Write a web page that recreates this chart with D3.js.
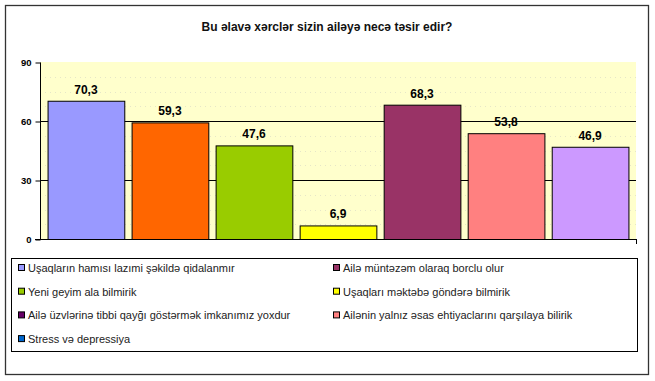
<!DOCTYPE html>
<html><head><meta charset="utf-8">
<script src="https://cdn.jsdelivr.net/npm/d3@7"></script>
<style>body{margin:0;background:#fff}svg{display:block}</style>
</head><body>
<script>
const title = "Bu əlavə xərclər sizin ailəyə necə təsir edir?";
const barValues = [70.3, 59.3, 47.6, 6.9, 68.3, 53.8, 46.9];
const barLabels = ["70,3", "59,3", "47,6", "6,9", "68,3", "53,8", "46,9"];
const barColors = ["#9999FF", "#FF6600", "#99CC00", "#FFFF00", "#993366", "#FF8080", "#CC99FF"];
const legendNames = [
  "Uşaqların hamısı lazımi şəkildə qidalanmır",
  "Ailə müntəzəm olaraq borclu olur",
  "Yeni geyim ala bilmirik",
  "Uşaqları məktəbə göndərə bilmirik",
  "Ailə üzvlərinə tibbi qayğı göstərmək imkanımız yoxdur",
  "Ailənin yalnız əsas ehtiyaclarını qarşılaya bilirik",
  "Stress və depressiya"
];
const legendColors = ["#9999FF", "#993366", "#99CC00", "#FFFF00", "#660066", "#FF8080", "#0066CC"];
const yTicks = [0, 30, 60, 90];

const W = 655, H = 381;
const svg = d3.select("body").append("svg").attr("width", W).attr("height", H);
const font = "Arial, 'Liberation Sans', sans-serif";

svg.append("rect").attr("x", 5.5).attr("y", 5.5).attr("width", 643).attr("height", 369)
  .attr("fill", "#fff").attr("stroke", "#333").attr("stroke-width", 1.3);

svg.append("text").attr("x", 327).attr("y", 31).attr("text-anchor", "middle")
  .attr("font-family", font).attr("font-size", 12).attr("font-weight", "bold").attr("fill", "#111").text(title);

const x0 = 40, x1 = 636, yTop = 62, yBot = 239;
const x = d3.scaleBand().domain(d3.range(barValues.length)).range([x0, x1]).paddingInner(0.087).paddingOuter(0.09);
const y = d3.scaleLinear().domain([0, 90]).range([yBot, yTop]);

svg.append("rect").attr("x", x0).attr("y", yTop).attr("width", x1 - x0).attr("height", yBot - yTop).attr("fill", "#FFFFCC");

// faint dotted texture lines
const minor = d3.range(0, 90, 7.5).filter(v => v % 30 !== 0);
svg.append("g").selectAll("line").data(minor).join("line")
  .attr("x1", x0).attr("x2", x1).attr("y1", d => Math.round(y(d)) + 0.5).attr("y2", d => Math.round(y(d)) + 0.5)
  .attr("stroke", "#e6e6c8").attr("stroke-dasharray", "1,4");

// gridlines
svg.append("g").selectAll("line").data([30, 60]).join("line")
  .attr("x1", x0).attr("x2", x1).attr("y1", d => Math.round(y(d)) + 0.5).attr("y2", d => Math.round(y(d)) + 0.5)
  .attr("stroke", "#000").attr("stroke-width", 1);

// bars
svg.append("g").selectAll("rect").data(barValues).join("rect")
  .attr("x", (d, i) => x(i) + 0.5).attr("y", d => y(d) + 0.5)
  .attr("width", x.bandwidth()).attr("height", d => yBot - y(d))
  .attr("fill", (d, i) => barColors[i]).attr("stroke", "#000").attr("stroke-width", 1);

svg.append("g").selectAll("text").data(barValues).join("text")
  .attr("x", (d, i) => x(i) + x.bandwidth() / 2).attr("y", d => y(d) - 7)
  .attr("text-anchor", "middle").attr("font-family", font).attr("font-size", 12).attr("font-weight", "bold")
  .attr("fill", "#000").text((d, i) => barLabels[i]);

// y axis
const yAxis = d3.axisLeft(y).tickValues(yTicks).tickSize(5).tickFormat(d3.format("d"));
const gy = svg.append("g").attr("transform", `translate(${x0 + 0.5},0.5)`).call(yAxis);
gy.select(".domain").attr("stroke", "#000").attr("d", `M0,${yTop}V${yBot}`);
gy.selectAll(".tick line").attr("stroke", "#000");
gy.selectAll(".tick text").attr("font-family", font).attr("font-size", 9.5).attr("font-weight", "bold").attr("fill", "#000").attr("x", -9);

// x axis line
svg.append("line").attr("x1", x0 - 5).attr("x2", x1 + 0.5).attr("y1", yBot + 0.5).attr("y2", yBot + 0.5).attr("stroke", "#000");
svg.append("line").attr("x1", x1 + 0.5).attr("x2", x1 + 0.5).attr("y1", yBot).attr("y2", yBot + 5).attr("stroke", "#000");

// legend
svg.append("rect").attr("x", 11.5).attr("y", 258.5).attr("width", 626).attr("height", 93)
  .attr("fill", "#fff").attr("stroke", "#000").attr("stroke-width", 1);
const lg = svg.append("g").selectAll("g").data(legendNames).join("g")
  .attr("transform", (d, i) => `translate(${i % 2 === 0 ? 18 : 333},${268 + Math.floor(i / 2) * 23.7})`);
lg.append("rect").attr("x", 0.5).attr("y", -3.5).attr("width", 6).attr("height", 6)
  .attr("fill", (d, i) => legendColors[i]).attr("stroke", "#000").attr("stroke-width", 1);
lg.append("text").attr("x", 10).attr("y", 4).attr("font-family", font).attr("font-size", 11)
  .attr("fill", "#222").text(d => d);
</script>
</body></html>
